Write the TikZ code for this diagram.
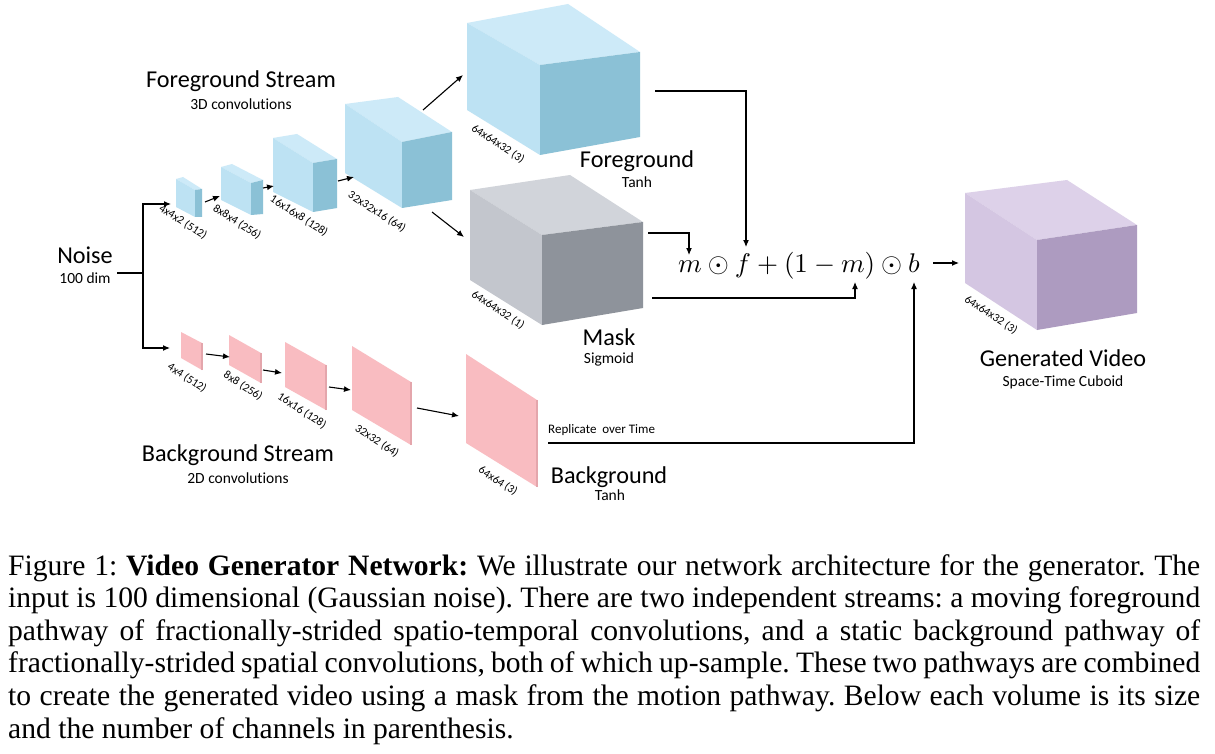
\documentclass[tikz,border=0pt]{standalone}
\usepackage[no-math]{fontspec}
\setmainfont{Carlito}[Ligatures={NoCommon}]
\newfontfamily\capfont{Liberation Serif}
\usetikzlibrary{arrows.meta}

% face colours of the volumes
\definecolor{blueTop}{HTML}{CDEAF8}
\definecolor{blueLeft}{HTML}{BDE2F3}
\definecolor{blueRight}{HTML}{8BC1D6}
\definecolor{grayTop}{HTML}{D1D4DA}
\definecolor{grayLeft}{HTML}{C3C6CD}
\definecolor{grayRight}{HTML}{8E939B}
\definecolor{violetTop}{HTML}{DDD1E9}
\definecolor{violetLeft}{HTML}{D4C6E2}
\definecolor{violetRight}{HTML}{AD9BC0}
\definecolor{pinkFace}{HTML}{F9BCC1}
\definecolor{pinkEdge}{HTML}{E4A6AC}

\tikzset{
  wire/.style={line width=1.1pt},
  conn/.style={line width=1.1pt, -{Latex[length=7pt,width=6pt]}},
  title/.style={font=\fontsize{24.2}{27}\selectfont, anchor=base, inner sep=0pt},
  sub/.style={font=\fontsize{15.5}{18}\selectfont, anchor=base, inner sep=0pt},
  dimlabel/.style={font=\fontsize{11.5}{13}\selectfont, rotate=-33, inner sep=0pt},
}

% corner points of a volume: A back-top-left, B back-top-right, C front-top-right,
% F front-top edge, G front-bottom edge, H bottom-right, L bottom-left
\newcommand\cuboidpoints[8]{%
  \coordinate (#1A) at (#2); \coordinate (#1B) at (#3);
  \coordinate (#1C) at (#4); \coordinate (#1F) at (#5);
  \coordinate (#1G) at (#6); \coordinate (#1H) at (#7);
  \coordinate (#1L) at (#8);}
\newcommand\cuboidfaces[4]{%
  \fill[#2] (#1A) -- (#1B) -- (#1C) -- (#1F) -- cycle;
  \fill[#3] (#1A) -- (#1F) -- (#1G) -- (#1L) -- cycle;
  \fill[#4] (#1F) -- (#1C) -- (#1H) -- (#1G) -- cycle;}
% a flat feature map: top-left, top-right, bottom-right, bottom-left
\newcommand\plane[5]{%
  \coordinate (#1a) at (#2); \coordinate (#1b) at (#3);
  \coordinate (#1c) at (#4); \coordinate (#1d) at (#5);
  \fill[pinkFace] (#1a) -- (#1b) -- (#1c) -- (#1d) -- cycle;
  \draw[pinkEdge, line width=1.6pt] (#1b) -- (#1c);}

\begin{document}
\begin{tikzpicture}[x=1pt, y=-1pt]
\useasboundingbox (0,0) rectangle (1215,754);
\fill[white] (0,0) rectangle (1215,754);

% ---------------- foreground stream (3D volumes) ----------------
\cuboidpoints{fa}{176,179}{183,177}{202,189}{195,190}{195,217}{202,217}{176,207}
\cuboidfaces{fa}{blueTop}{blueLeft}{blueRight}
\cuboidpoints{fb}{221,167}{232,164}{263,180}{251,183}{251,215}{263,214}{221,200}
\cuboidfaces{fb}{blueTop}{blueLeft}{blueRight}
\cuboidpoints{fc}{273,138}{297,134}{337,159}{313,163}{313,212}{337,208}{273,192}
\cuboidfaces{fc}{blueTop}{blueLeft}{blueRight}
\cuboidpoints{fd}{345,104}{398,97}{452,132}{402,142}{402,208}{452,200}{345,173}
\cuboidfaces{fd}{blueTop}{blueLeft}{blueRight}
\cuboidpoints{fg}{467,23}{568,4}{640,52}{540,65}{540,155}{640,137}{467,110}
\cuboidfaces{fg}{blueTop}{blueLeft}{blueRight}
\cuboidpoints{mk}{470,190}{570,175}{643,222}{542,235}{542,325}{643,308}{470,280}
\cuboidfaces{mk}{grayTop}{grayLeft}{grayRight}
\cuboidpoints{gv}{965,193}{1067,180}{1137,225}{1037,240}{1037,330}{1137,313}{965,283}
\cuboidfaces{gv}{violetTop}{violetLeft}{violetRight}

% ---------------- background stream (2D maps) ----------------
\plane{pa}{181,332}{202,343}{202,370}{181,358}
\plane{pb}{229,335}{261,353}{261,383}{229,365}
\plane{pc}{285,342}{326,365}{326,410}{285,387}
\plane{pd}{352,346}{411,382}{411,445}{352,410}
\plane{pe}{466,354}{537,400}{537,487}{466,443}

% ---------------- labels ----------------
\node[title] (noise) at (85,263) {Noise};
\node[sub] (noisedim) at (85,283) {100 dim};
\node[title] (fstream) at (241,88) {Foreground Stream};
\node[sub] (fconv) at (241,110) {3D convolutions};
\node[title] (bstream) at (238,461) {Background Stream};
\node[sub] (bconv) at (238,483) {2D convolutions};
\node[title] (fgname) at (637,168) {Foreground};
\node[sub] (fgact) at (637,188) {Tanh};
\node[title] (mkname) at (609,345) {Mask};
\node[sub] (mkact) at (609,363) {Sigmoid};
\node[title] (bgname) at (609,483) {Background};
\node[sub] (bgact) at (610,500) {Tanh};
\node[title] (gvname) at (1063,366) {Generated Video};
\node[sub] (gvsub) at (1063,386) {Space-Time Cuboid};
\node[anchor=base west, inner sep=0pt, font=\fontsize{13}{15}\selectfont] (repl) at (548,433) {Replicate\ \ over Time};

\node[dimlabel] (la) at (183,222) {4x4x2 (512)};
\node[dimlabel] (lb) at (237,222) {8x8x4 (256)};
\node[dimlabel] (lc) at (299,216) {16x16x8 (128)};
\node[dimlabel] (ld) at (377,212) {32x32x16 (64)};
\node[dimlabel] (lfg) at (498,144) {64x64x32 (3)};
\node[dimlabel] (lmk) at (498,310) {64x64x32 (1)};
\node[dimlabel] (lgv) at (991,315) {64x64x32 (3)};
\node[dimlabel] (lpa) at (187,378) {4x4 (512)};
\node[dimlabel] (lpb) at (243,386) {8x8 (256)};
\node[dimlabel] (lpc) at (302,411) {16x16 (128)};
\node[dimlabel] (lpd) at (377,441) {32x32 (64)};
\node[dimlabel] (lpe) at (498,481) {64x64 (3)};

% composition formula
\node[anchor=base, inner sep=0pt, scale=2.7] (formula) at (799,272) {$m \odot f + (1-m) \odot b$};

% ---------------- connectors ----------------
\coordinate (nzout) at (117,273);
\coordinate (split) at (143,273);
\coordinate (fain) at (171,204);
\coordinate (pain) at (170,348);
\draw[wire] (nzout) -- (split);
\draw[conn] (split) |- (fain);
\draw[conn] (split) |- (pain);

\coordinate (faout) at (205,202); \coordinate (fbin) at (220,196);
\coordinate (fbout) at (263,188); \coordinate (fcin) at (274,186);
\coordinate (fcout) at (338,181); \coordinate (fdin) at (354,177);
\coordinate (fdup) at (423,110); \coordinate (fgin) at (463,75);
\coordinate (fddown) at (432,212); \coordinate (mkin) at (464,237);
\draw[conn] (faout) -- (fbin);
\draw[conn] (fbout) -- (fcin);
\draw[conn] (fcout) -- (fdin);
\draw[conn] (fdup) -- (fgin);
\draw[conn] (fddown) -- (mkin);

\coordinate (paout) at (206,354); \coordinate (pbin) at (230,357);
\coordinate (pbout) at (263,370); \coordinate (pcin) at (282,373);
\coordinate (pcout) at (329,387); \coordinate (pdin) at (351,390);
\coordinate (pdout) at (417,408); \coordinate (pein) at (459,416);
\draw[conn] (paout) -- (pbin);
\draw[conn] (pbout) -- (pcin);
\draw[conn] (pcout) -- (pdin);
\draw[conn] (pdout) -- (pein);

\coordinate (fgout) at (655,91);  \coordinate (fterm) at (746,247);
\coordinate (mkout1) at (648,233); \coordinate (mterm1) at (689,255);
\coordinate (mkout2) at (652,298); \coordinate (mterm2) at (855,282);
\coordinate (bgout) at (548,443);  \coordinate (bterm) at (914,282);
\coordinate (fmout) at (933,263);  \coordinate (gvin) at (959,263);
\draw[conn] (fgout) -| (fterm);
\draw[conn] (mkout1) -| (mterm1);
\draw[conn] (mkout2) -| (mterm2);
\draw[conn] (bgout) -| (bterm);
\draw[conn] (fmout) -- (gvin);

% ---------------- caption ----------------
\node[anchor=north west, inner sep=0pt, text width=1192pt, align=justify,
      font=\capfont\fontsize{29.6}{32.6}\selectfont\frenchspacing] (caption) at (8,554)
{Figure 1: \textbf{Video Generator Network:} We illustrate our network architecture for the generator. The\linebreak
input is 100 dimensional (Gaussian noise). There are two independent streams: a moving foreground\linebreak
pathway of fractionally-strided spatio-temporal convolutions, and a static background pathway of\linebreak
fractionally-strided spatial convolutions, both of which up-sample. These two pathways are combined\linebreak
to create the generated video using a mask from the motion pathway. Below each volume is its size\linebreak
and the number of channels in parenthesis.};
\end{tikzpicture}
\end{document}
